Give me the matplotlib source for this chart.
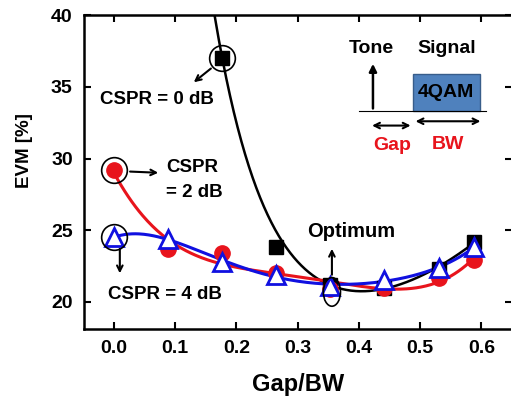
import numpy as np
import matplotlib
matplotlib.use("Agg")
import matplotlib.pyplot as plt
from matplotlib.patches import Ellipse, Rectangle

plt.rcParams["font.family"] = ["Liberation Sans", "DejaVu Sans"]
plt.rcParams["font.weight"] = "bold"

# Gap/BW positions
gap_bw = [0.0, 0.088, 0.177, 0.265, 0.353, 0.441, 0.53, 0.588]

# EVM [%] per CSPR (CSPR = 0 dB only visible from Gap/BW = 0.177 on)
gap_bw_0db = [0.177, 0.265, 0.353, 0.441, 0.53, 0.588]
evm_0db = [37.0, 23.8, 21.2, 21.0, 22.3, 24.2]
evm_2db = [29.2, 23.7, 23.4, 22.0, 20.9, 21.0, 21.7, 22.9]
evm_4db = [24.5, 24.4, 22.8, 21.9, 21.1, 21.5, 22.4, 23.8]

x_ticks = [0.0, 0.1, 0.2, 0.3, 0.4, 0.5, 0.6]
y_ticks = [20, 25, 30, 35, 40]

RED = "#e8141c"
BLUE = "#1010e0"

fig = plt.figure(figsize=(5.11, 3.99), dpi=100)
ax = fig.add_axes([0.164, 0.175, 0.838, 0.787])

x = np.array(gap_bw)
x0 = np.array(gap_bw_0db)

# fitted trend lines
xs0 = np.linspace(0.13, 0.588, 300)
xs = np.linspace(0, 0.588, 300)


def basis0(v):
    # decaying term plus a parabola for the CSPR = 0 dB fit
    return np.column_stack([np.ones_like(v), v, v ** 2, np.exp(-v / 0.085)])


w0 = np.array([3, 0.2, 1, 1, 1, 1])
coef0 = np.linalg.lstsq(basis0(x0) * w0[:, None], np.array(evm_0db) * w0, rcond=None)[0]
fit0 = basis0(xs0) @ coef0
fit2 = np.polyval(np.polyfit(x, evm_2db, 4), xs)
fit4 = np.polyval(np.polyfit(x, evm_4db, 5), xs)

ax.plot(xs0, fit0, color="black", lw=1.8, zorder=2)
ax.plot(xs, fit2, color=RED, lw=2.2, zorder=3)
ax.plot(xs, fit4, color=BLUE, lw=2.2, zorder=4)

ax.plot(x0, evm_0db, "s", color="black", ms=9.5, zorder=5)
ax.plot(x, evm_2db, "o", color=RED, ms=11, zorder=6)
ax.plot(x, evm_4db, "^", mfc="white", mec=BLUE, mew=2, ms=12.5, zorder=7)

# circles around highlighted points
ring = dict(mfc="none", mec="black", ms=18.5, mew=1.2, zorder=8)
ax.plot([0.177], [37.0], "o", **ring)
ax.plot([0.0], [29.2], "o", **ring)
ax.plot([0.0], [24.5], "o", **ring)
ax.add_patch(Ellipse((0.356, 20.7), 0.028, 2.0, fill=False, ec="black", lw=1.2, zorder=8))

arr = dict(arrowstyle="->", color="black", lw=1.5)
ax.annotate("", xy=(0.127, 35.2), xytext=(0.162, 36.4), arrowprops=arr)
ax.text(0.070, 34.1, "CSPR = 0 dB", fontsize=13.5, ha="center", va="center")
ax.annotate("", xy=(0.077, 29.0), xytext=(0.022, 29.1), arrowprops=arr)
ax.text(0.085, 29.4, "CSPR", fontsize=13.5, ha="left", va="center")
ax.text(0.085, 27.6, "= 2 dB", fontsize=13.5, ha="left", va="center")
ax.annotate("", xy=(0.0098, 21.8), xytext=(0.0098, 23.9), arrowprops=arr)
ax.text(0.083, 20.5, "CSPR = 4 dB", fontsize=13.5, ha="center", va="center")
ax.annotate("", xy=(0.356, 23.9), xytext=(0.356, 21.7), arrowprops=arr)
ax.text(0.387, 24.9, "Optimum", fontsize=14.5, ha="center", va="center")

# inset sketch of tone and signal
ax.plot([0.400, 0.608], [33.3, 33.3], color="black", lw=0.8, zorder=3)
ax.annotate("", xy=(0.423, 36.8), xytext=(0.423, 33.3),
            arrowprops=dict(arrowstyle="-|>", color="black", lw=1.8, mutation_scale=11))
ax.add_patch(Rectangle((0.488, 33.3), 0.109, 2.6, fc="#4f81bd", ec="#385d8a", lw=1, zorder=2))
ax.text(0.5425, 34.6, "4QAM", fontsize=14, ha="center", va="center")
ax.text(0.421, 37.7, "Tone", fontsize=14, ha="center", va="center")
ax.text(0.543, 37.7, "Signal", fontsize=14, ha="center", va="center")
darr = dict(arrowstyle="<->", color="black", lw=1.5)
ax.annotate("", xy=(0.417, 32.3), xytext=(0.489, 32.3), arrowprops=darr)
ax.annotate("", xy=(0.488, 32.6), xytext=(0.603, 32.6), arrowprops=darr)
ax.text(0.454, 30.9, "Gap", fontsize=14, ha="center", va="center", color=RED)
ax.text(0.546, 31.0, "BW", fontsize=14, ha="center", va="center", color=RED)

ax.set_xlim(-0.049, 0.65)
ax.set_ylim(18.1, 40)
ax.set_xticks(x_ticks)
ax.set_yticks(y_ticks)
ax.set_xticklabels([f"{t:.1f}" for t in x_ticks])
ax.tick_params(direction="in", top=True, right=True, length=5, width=1.5,
               labelsize=14, pad=8)
for s in ax.spines.values():
    s.set_linewidth(1.8)
ax.set_xlabel("Gap/BW", fontsize=17, fontweight="bold", labelpad=11)
ax.set_ylabel("EVM [%]", fontsize=13.5, fontweight="bold")
ax.yaxis.set_label_coords(-0.119, 0.57)

fig.savefig("out.png", dpi=100)
